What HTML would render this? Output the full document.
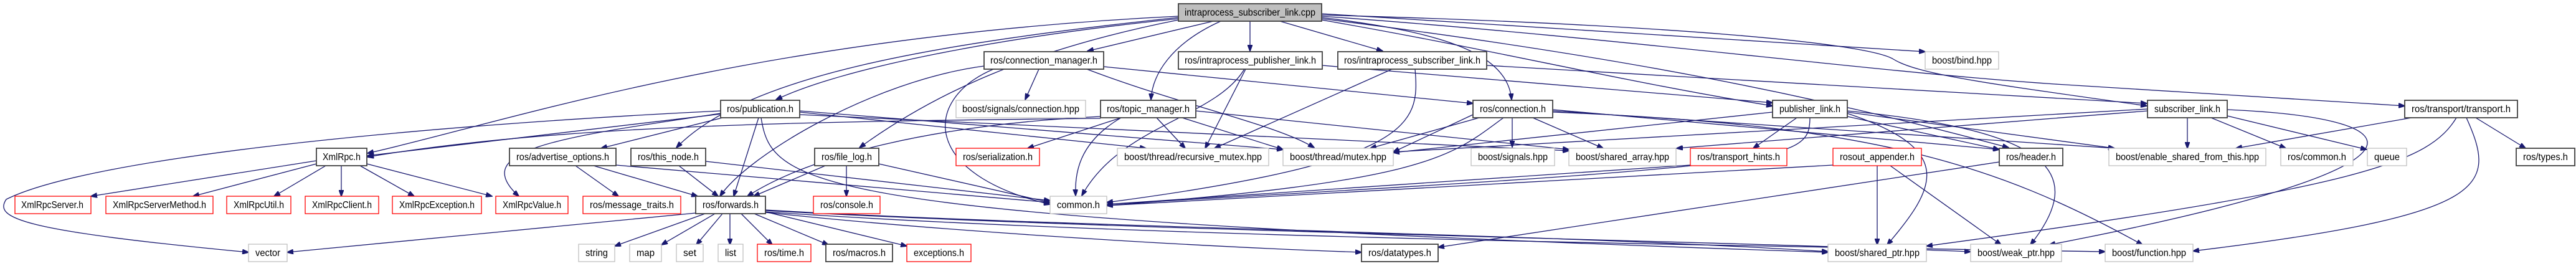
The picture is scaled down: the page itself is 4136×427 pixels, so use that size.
<!DOCTYPE html>
<html><head><meta charset="utf-8"><style>
html,body{margin:0;padding:0;background:#fff;}
svg{display:block;}
text{font-family:"Liberation Sans",sans-serif;font-size:16px;fill:#000;}
.e{fill:none;stroke:#191970;stroke-width:1.3;marker-end:url(#a);}
.k{fill:#fff;stroke:#404040;stroke-width:1.8;}
.r{fill:#fff;stroke:#ff0000;stroke-width:1.3;}
.g{fill:#fff;stroke:#bfbfbf;stroke-width:1.3;}
</style></head><body>
<svg width="4136" height="427" viewBox="0 0 4136 427" xmlns="http://www.w3.org/2000/svg">
<defs><marker id="a" markerWidth="11" markerHeight="8" refX="10" refY="4" orient="auto" markerUnits="userSpaceOnUse"><path d="M0,0 L11,4 L0,8 z" fill="#191970" stroke="#191970"/></marker></defs>
<g>
<!-- root edges -->
<path class="e" d="M1948,34 L1746,82"/>
<path class="e" d="M2007,34 L2007,82"/>
<path class="e" d="M2055,34 L2220,82"/>
<path class="e" d="M1960,34 C1880,70 1850,120 1848,160"/>
<path class="e" d="M2122,28 C2300,50 2420,80 2427,160"/>
<path class="e" d="M1892,30 C1600,60 1350,110 1246,160"/>
<path class="e" d="M1892,28 C1500,70 1200,120 1086,237"/>
<path class="e" d="M1892,32 C1650,80 1500,150 1380,237"/>
<path class="e" d="M1892,26 C1200,60 800,200 590,246"/>
<path class="e" d="M2122,22 L3091,83"/>
<path class="e" d="M2122,24 C2700,40 3000,70 3040,95 C3080,120 3200,135 3447,170"/>
<path class="e" d="M2122,26 C2600,60 3000,115 3300,135 L3861,170"/>
<path class="e" d="M2122,30 C2600,90 2900,150 3225,237"/>
<path class="e" d="M2122,32 C2400,80 2600,130 2846,170"/>
<!-- connection_manager -->
<path class="e" d="M1668,111 L1646,160"/>
<path class="e" d="M1595,111 C1480,160 1480,280 1686,328"/>
<path class="e" d="M1772,107 L2365,166"/>
<path class="e" d="M1745,111 C1900,170 2050,200 2110,237"/>
<path class="e" d="M1580,106 C1400,130 1200,250 1156,315"/>
<!-- intraprocess_publisher_link -->
<path class="e" d="M2000,111 L1935,238"/>
<path class="e" d="M1998,111 C1950,190 1800,200 1737,314"/>
<path class="e" d="M2123,105 L2846,165"/>
<!-- intraprocess_subscriber_link -->
<path class="e" d="M2272,111 C2280,200 2270,260 1777,325"/>
<path class="e" d="M2235,111 L1950,238"/>
<path class="e" d="M2387,105 L3447,166"/>
<!-- topic_manager -->
<path class="e" d="M1800,189 L1650,238"/>
<path class="e" d="M1800,189 C1730,230 1726,280 1727,314"/>
<path class="e" d="M1857,189 L1903,238"/>
<path class="e" d="M1898,189 L2060,240"/>
<path class="e" d="M1767,187 C1500,200 1300,250 1200,315"/>
<path class="e" d="M1767,190 C1300,195 900,200 590,252"/>
<path class="e" d="M1920,178 L2519,240"/>
<!-- publication -->
<path class="e" d="M1160,189 L965,238"/>
<path class="e" d="M1218,189 L1178,315"/>
<path class="e" d="M1157,178 C700,200 150,250 10,320 C-10,350 30,370 399,405"/>
<path class="e" d="M1157,183 L590,250"/>
<path class="e" d="M1157,182 C900,220 750,240 833,315"/>
<path class="e" d="M1284,178 L2060,240"/>
<path class="e" d="M1284,180 L1840,238"/>
<path class="e" d="M1284,184 L2519,242"/>
<path class="e" d="M1222,189 C1240,300 1290,350 2935,405"/>
<!-- XmlRpc -->
<path class="e" d="M508,258 L146,315"/>
<path class="e" d="M508,263 L310,315"/>
<path class="e" d="M523,266 L440,315"/>
<path class="e" d="M548,266 L548,315"/>
<path class="e" d="M578,266 L665,315"/>
<path class="e" d="M589,263 L790,315"/>
<!-- advertise_options / this_node / file_log -->
<path class="e" d="M924,266 L993,315"/>
<path class="e" d="M953,266 L1120,315"/>
<path class="e" d="M989,265 L1686,325"/>
<path class="e" d="M1090,266 L1153,315"/>
<path class="e" d="M1133,259 L1686,322"/>
<path class="e" d="M1325,266 L1210,315"/>
<path class="e" d="M1359,266 L1359,315"/>
<path class="e" d="M1411,263 L1686,325"/>
<!-- forwards -->
<path class="e" d="M1132,343 L987,395"/>
<path class="e" d="M1148,343 L1062,393"/>
<path class="e" d="M1160,343 L1118,393"/>
<path class="e" d="M1172,343 L1172,393"/>
<path class="e" d="M1190,343 L1240,393"/>
<path class="e" d="M1211,343 L1330,393"/>
<path class="e" d="M1229,340 L1456,395"/>
<path class="e" d="M1117,342 L461,405"/>
<path class="e" d="M1229,337 C1700,365 2500,375 2935,404"/>
<path class="e" d="M1229,338 C1800,370 2700,385 3164,404"/>
<path class="e" d="M1229,340 C1800,380 2800,395 3380,404"/>
<path class="e" d="M1229,341 C1500,370 1900,395 2186,405"/>
<!-- connection.h -->
<path class="e" d="M2375,189 L2200,238"/>
<path class="e" d="M2365,184 L2237,244"/>
<path class="e" d="M2428,189 L2428,236"/>
<path class="e" d="M2461,189 L2574,238"/>
<path class="e" d="M2414,189 C2330,250 2300,290 1777,330"/>
<path class="e" d="M2493,176 L3210,240"/>
<path class="e" d="M2493,178 L3395,238"/>
<path class="e" d="M2493,180 C3000,200 3200,260 3440,393"/>
<!-- publisher_link -->
<path class="e" d="M2885,189 L2815,238"/>
<path class="e" d="M2906,189 C2905,260 2880,265 1777,328"/>
<path class="e" d="M2966,187 L3210,240"/>
<path class="e" d="M2966,180 L3395,238"/>
<path class="e" d="M2966,182 C3140,240 3110,300 3030,393"/>
<path class="e" d="M2846,180 L2237,245"/>
<path class="e" d="M2966,178 C3300,210 3350,280 3260,393"/>
<!-- subscriber_link -->
<path class="e" d="M3512,189 L3512,238"/>
<path class="e" d="M3550,189 L3670,238"/>
<path class="e" d="M3576,186 L3800,240"/>
<path class="e" d="M3576,176 C3900,190 3930,270 3290,393"/>
<path class="e" d="M3448,178 L2692,238"/>
<path class="e" d="M3448,175 L2237,244"/>
<!-- transport -->
<path class="e" d="M3872,189 L3590,238"/>
<path class="e" d="M3975,189 L4055,238"/>
<path class="e" d="M3944,189 C3900,260 3800,300 3093,395"/>
<path class="e" d="M3960,189 C4010,300 4000,345 3521,403"/>
<!-- rosout_appender / header / transport_hints -->
<path class="e" d="M3014,266 L3014,393"/>
<path class="e" d="M3035,266 L3213,393"/>
<path class="e" d="M2943,265 L1777,330"/>
<path class="e" d="M3210,260 L2309,397"/>
<path class="e" d="M2714,265 L1777,328"/>
</g>
<g>
<rect x="1892" y="6" width="230" height="28" fill="#bfbfbf" stroke="#404040" stroke-width="1.8"/>
<text x="1902" y="25" textLength="210" lengthAdjust="spacingAndGlyphs">intraprocess_subscriber_link.cpp</text>

<rect class="k" x="1580" y="83" width="192" height="28"/><text x="1590" y="102" textLength="172" lengthAdjust="spacingAndGlyphs">ros/connection_manager.h</text>
<rect class="k" x="1892" y="83" width="231" height="28"/><text x="1902" y="102" textLength="211" lengthAdjust="spacingAndGlyphs">ros/intraprocess_publisher_link.h</text>
<rect class="k" x="2148" y="83" width="239" height="28"/><text x="2158" y="102" textLength="219" lengthAdjust="spacingAndGlyphs">ros/intraprocess_subscriber_link.h</text>
<rect class="g" x="3091" y="83" width="118" height="28"/><text x="3102" y="102" textLength="96" lengthAdjust="spacingAndGlyphs">boost/bind.hpp</text>

<rect class="k" x="1157" y="161" width="127" height="28"/><text x="1167" y="180" textLength="107" lengthAdjust="spacingAndGlyphs">ros/publication.h</text>
<rect class="g" x="1535" y="161" width="208" height="28"/><text x="1545" y="180" textLength="188" lengthAdjust="spacingAndGlyphs">boost/signals/connection.hpp</text>
<rect class="k" x="1767" y="161" width="153" height="28"/><text x="1777" y="180" textLength="133" lengthAdjust="spacingAndGlyphs">ros/topic_manager.h</text>
<rect class="k" x="2365" y="161" width="128" height="28"/><text x="2376" y="180" textLength="106" lengthAdjust="spacingAndGlyphs">ros/connection.h</text>
<rect class="k" x="2846" y="161" width="120" height="28"/><text x="2857" y="180" textLength="98" lengthAdjust="spacingAndGlyphs">publisher_link.h</text>
<rect class="k" x="3448" y="161" width="128" height="28"/><text x="3459" y="180" textLength="106" lengthAdjust="spacingAndGlyphs">subscriber_link.h</text>
<rect class="k" x="3861" y="161" width="181" height="28"/><text x="3872" y="180" textLength="159" lengthAdjust="spacingAndGlyphs">ros/transport/transport.h</text>

<rect class="k" x="508" y="238" width="81" height="28"/><text x="518" y="257" textLength="61" lengthAdjust="spacingAndGlyphs">XmlRpc.h</text>
<rect class="k" x="818" y="238" width="171" height="28"/><text x="829" y="257" textLength="149" lengthAdjust="spacingAndGlyphs">ros/advertise_options.h</text>
<rect class="k" x="1013" y="238" width="120" height="28"/><text x="1024" y="257" textLength="98" lengthAdjust="spacingAndGlyphs">ros/this_node.h</text>
<rect class="k" x="1308" y="238" width="103" height="28"/><text x="1319" y="257" textLength="81" lengthAdjust="spacingAndGlyphs">ros/file_log.h</text>
<rect class="r" x="1535" y="238" width="134" height="28"/><text x="1546" y="257" textLength="112" lengthAdjust="spacingAndGlyphs">ros/serialization.h</text>
<rect class="g" x="1794" y="238" width="243" height="28"/><text x="1805" y="257" textLength="221" lengthAdjust="spacingAndGlyphs">boost/thread/recursive_mutex.hpp</text>
<rect class="g" x="2060" y="238" width="177" height="28"/><text x="2071" y="257" textLength="155" lengthAdjust="spacingAndGlyphs">boost/thread/mutex.hpp</text>
<rect class="g" x="2362" y="238" width="134" height="28"/><text x="2373" y="257" textLength="112" lengthAdjust="spacingAndGlyphs">boost/signals.hpp</text>
<rect class="g" x="2519" y="238" width="172" height="28"/><text x="2530" y="257" textLength="150" lengthAdjust="spacingAndGlyphs">boost/shared_array.hpp</text>
<rect class="r" x="2714" y="238" width="155" height="28"/><text x="2725" y="257" textLength="133" lengthAdjust="spacingAndGlyphs">ros/transport_hints.h</text>
<rect class="r" x="2943" y="238" width="142" height="28"/><text x="2954" y="257" textLength="120" lengthAdjust="spacingAndGlyphs">rosout_appender.h</text>
<rect class="k" x="3210" y="238" width="102" height="28"/><text x="3221" y="257" textLength="80" lengthAdjust="spacingAndGlyphs">ros/header.h</text>
<rect class="g" x="3386" y="238" width="252" height="28"/><text x="3397" y="257" textLength="230" lengthAdjust="spacingAndGlyphs">boost/enable_shared_from_this.hpp</text>
<rect class="g" x="3662" y="238" width="116" height="28"/><text x="3673" y="257" textLength="94" lengthAdjust="spacingAndGlyphs">ros/common.h</text>
<rect class="g" x="3801" y="238" width="63" height="28"/><text x="3812" y="257" textLength="41" lengthAdjust="spacingAndGlyphs">queue</text>
<rect class="k" x="4040" y="238" width="94" height="28"/><text x="4051" y="257" textLength="72" lengthAdjust="spacingAndGlyphs">ros/types.h</text>

<rect class="r" x="24" y="315" width="122" height="28"/><text x="34" y="334" textLength="100" lengthAdjust="spacingAndGlyphs">XmlRpcServer.h</text>
<rect class="r" x="170" y="315" width="172" height="28"/><text x="181" y="334" textLength="150" lengthAdjust="spacingAndGlyphs">XmlRpcServerMethod.h</text>
<rect class="r" x="364" y="315" width="103" height="28"/><text x="375" y="334" textLength="81" lengthAdjust="spacingAndGlyphs">XmlRpcUtil.h</text>
<rect class="r" x="490" y="315" width="118" height="28"/><text x="501" y="334" textLength="96" lengthAdjust="spacingAndGlyphs">XmlRpcClient.h</text>
<rect class="r" x="630" y="315" width="143" height="28"/><text x="641" y="334" textLength="121" lengthAdjust="spacingAndGlyphs">XmlRpcException.h</text>
<rect class="r" x="796" y="315" width="116" height="28"/><text x="807" y="334" textLength="94" lengthAdjust="spacingAndGlyphs">XmlRpcValue.h</text>
<rect class="r" x="936" y="315" width="157" height="28"/><text x="947" y="334" textLength="135" lengthAdjust="spacingAndGlyphs">ros/message_traits.h</text>
<rect class="k" x="1117" y="315" width="112" height="28"/><text x="1128" y="334" textLength="90" lengthAdjust="spacingAndGlyphs">ros/forwards.h</text>
<rect class="r" x="1306" y="315" width="107" height="28"/><text x="1317" y="334" textLength="85" lengthAdjust="spacingAndGlyphs">ros/console.h</text>
<rect class="g" x="1686" y="315" width="91" height="28"/><text x="1697" y="334" textLength="69" lengthAdjust="spacingAndGlyphs">common.h</text>

<rect class="g" x="399" y="392" width="62" height="28"/><text x="410" y="411" textLength="40" lengthAdjust="spacingAndGlyphs">vector</text>
<rect class="g" x="929" y="392" width="58" height="28"/><text x="940" y="411" textLength="36" lengthAdjust="spacingAndGlyphs">string</text>
<rect class="g" x="1011" y="392" width="51" height="28"/><text x="1022" y="411" textLength="29" lengthAdjust="spacingAndGlyphs">map</text>
<rect class="g" x="1086" y="392" width="43" height="28"/><text x="1097" y="411" textLength="21" lengthAdjust="spacingAndGlyphs">set</text>
<rect class="g" x="1153" y="392" width="40" height="28"/><text x="1164" y="411" textLength="18" lengthAdjust="spacingAndGlyphs">list</text>
<rect class="r" x="1216" y="392" width="86" height="28"/><text x="1227" y="411" textLength="64" lengthAdjust="spacingAndGlyphs">ros/time.h</text>
<rect class="k" x="1326" y="392" width="107" height="28"/><text x="1337" y="411" textLength="85" lengthAdjust="spacingAndGlyphs">ros/macros.h</text>
<rect class="r" x="1456" y="392" width="103" height="28"/><text x="1467" y="411" textLength="81" lengthAdjust="spacingAndGlyphs">exceptions.h</text>
<rect class="k" x="2186" y="392" width="123" height="28"/><text x="2197" y="411" textLength="101" lengthAdjust="spacingAndGlyphs">ros/datatypes.h</text>
<rect class="g" x="2935" y="392" width="158" height="28"/><text x="2946" y="411" textLength="136" lengthAdjust="spacingAndGlyphs">boost/shared_ptr.hpp</text>
<rect class="g" x="3164" y="392" width="146" height="28"/><text x="3175" y="411" textLength="124" lengthAdjust="spacingAndGlyphs">boost/weak_ptr.hpp</text>
<rect class="g" x="3380" y="392" width="141" height="28"/><text x="3391" y="411" textLength="119" lengthAdjust="spacingAndGlyphs">boost/function.hpp</text>
</g>
</svg>
</body></html>
